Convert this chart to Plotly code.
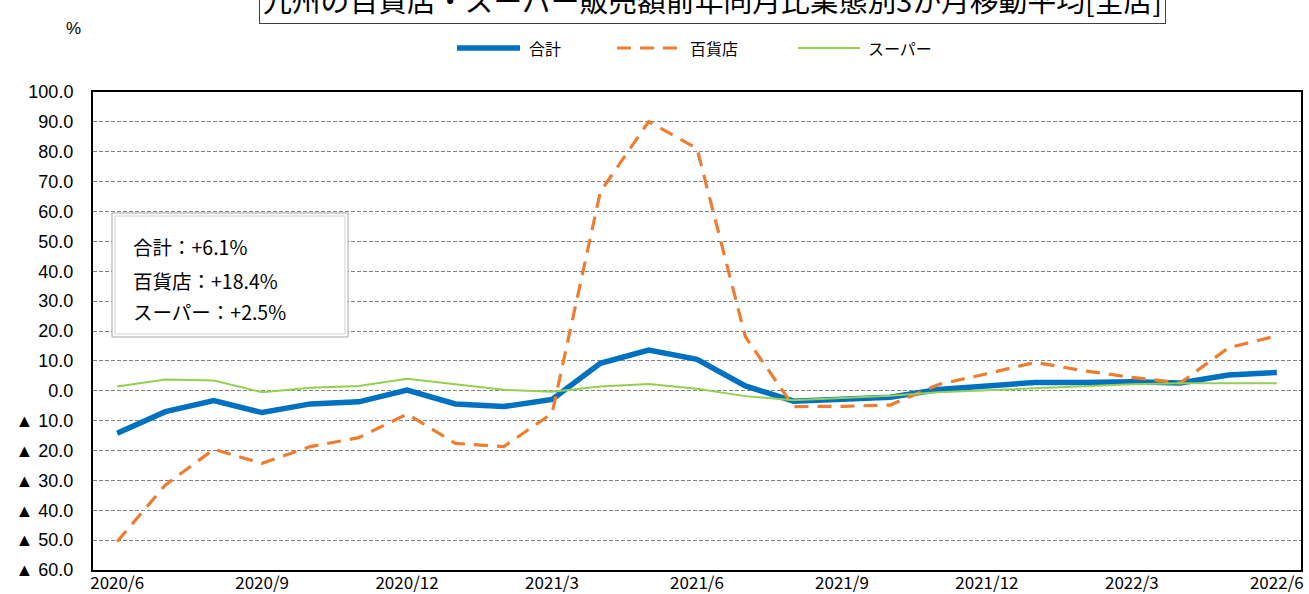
import plotly.graph_objects as go

months = ["2020/6", "2020/7", "2020/8", "2020/9", "2020/10", "2020/11", "2020/12",
          "2021/1", "2021/2", "2021/3", "2021/4", "2021/5", "2021/6", "2021/7",
          "2021/8", "2021/9", "2021/10", "2021/11", "2021/12", "2022/1", "2022/2",
          "2022/3", "2022/4", "2022/5", "2022/6"]

total = [-14.2, -7.0, -3.3, -7.3, -4.4, -3.7, 0.2,
         -4.4, -5.3, -2.9, 9.2, 13.6, 10.5, 1.6,
         -3.5, -2.8, -2.2, 0.4, 1.7, 2.8, 2.8,
         3.0, 2.6, 5.3, 6.1]

dept = [-50.5, -31.5, -19.6, -24.3, -18.7, -15.7, -7.8,
        -17.6, -18.7, -7.6, 66.6, 90.1, 81.1, 18.1,
        -5.3, -5.2, -4.8, 2.1, 5.7, 9.5, 6.7,
        4.5, 2.6, 14.4, 18.4]

super_ = [1.4, 3.8, 3.4, -0.5, 1.0, 1.6, 4.0,
          2.1, 0.3, -0.3, 1.4, 2.3, 0.7, -1.8,
          -3.2, -2.4, -1.7, -0.5, 0.1, 0.7, 1.5,
          2.2, 2.5, 2.5, 2.5]

names = ["合計", "百貨店", "スーパー"]
colors = ["#0070C0", "#ED7D31", "#92D050"]
ytick_vals = [100, 90, 80, 70, 60, 50, 40, 30, 20, 10, 0, -10, -20, -30, -40, -50, -60]
ytick_text = ["100.0", "90.0", "80.0", "70.0", "60.0", "50.0", "40.0", "30.0", "20.0",
              "10.0", "0.0", "▲ 10.0", "▲ 20.0", "▲ 30.0", "▲ 40.0", "▲ 50.0", "▲ 60.0"]
xtick_vals = months[::3]
title_text = "九州の百貨店・スーパー販売額前年同月比業態別3か月移動平均[全店]"
note_lines = ["合計：+6.1%", "百貨店：+18.4%", "スーパー：+2.5%"]

FONT = "Liberation Sans, Noto Sans CJK JP, sans-serif"
JFONT = "Noto Sans CJK JP, sans-serif"

W, H = 1309, 594
L, R, T, B = 93, 8, 92, 24
PW, PH = W - L - R, H - T - B


def px(x):
    return (x - L) / PW


def py(y):
    return (H - B - y) / PH


fig = go.Figure()
fig.add_trace(go.Scatter(x=months, y=total, name=names[0], mode="lines",
                         line=dict(color=colors[0], width=5.5)))
fig.add_trace(go.Scatter(x=months, y=dept, name=names[1], mode="lines",
                         line=dict(color=colors[1], width=3.2, dash="14px,9px")))
fig.add_trace(go.Scatter(x=months, y=super_, name=names[2], mode="lines",
                         line=dict(color=colors[2], width=2)))

fig.update_layout(
    width=W, height=H,
    margin=dict(l=L, r=R, t=T, b=B, autoexpand=False),
    paper_bgcolor="white", plot_bgcolor="white",
    font=dict(family=FONT, size=15, color="black"),
    showlegend=False,
)

fig.update_xaxes(type="category", range=[-0.5, len(months) - 0.5],
                 tickvals=xtick_vals, ticktext=xtick_vals,
                 showgrid=False, showline=True, linecolor="black", linewidth=2,
                 mirror=True, ticks="", tickfont=dict(size=17, family=JFONT),
                 ticklabelstandoff=-3)
fig.update_yaxes(range=[-60, 100], tickvals=ytick_vals, ticktext=ytick_text,
                 showgrid=True, gridcolor="#808080", gridwidth=1, griddash="4px,2px",
                 zeroline=False, showline=True, linecolor="black", linewidth=2,
                 mirror=True, ticks="", ticklabelstandoff=14,
                 tickfont=dict(size=18, family=FONT))

# Title box (top is cut off by the canvas edge, as in the original)
fig.add_annotation(text=title_text, xref="paper", yref="paper", x=px(712), y=py(24),
                   yanchor="bottom", xanchor="center", showarrow=False,
                   font=dict(family=JFONT, size=28.8, color="black"),
                   bordercolor="#404040", borderwidth=1, borderpad=3, bgcolor="white")

# % label
fig.add_annotation(text="%", xref="paper", yref="paper", x=px(73), y=py(28),
                   xanchor="center", yanchor="middle", showarrow=False,
                   font=dict(family=FONT, size=17))

# Legend (drawn manually to match the long line samples)
legend_lines = [(457, 520), (617, 680), (798, 860)]
legend_text_x = [527, 688, 866]
legend_widths = [5.5, 3.2, 2]
legend_dash = ["solid", "14px,9px", "solid"]
for (x0, x1), tx, nm, c, w, d in zip(legend_lines, legend_text_x, names, colors,
                                      legend_widths, legend_dash):
    fig.add_shape(type="line", xref="paper", yref="paper", x0=px(x0), x1=px(x1),
                  y0=py(48), y1=py(48), line=dict(color=c, width=w, dash=d))
    fig.add_annotation(text=nm, xref="paper", yref="paper", x=px(tx), y=py(48),
                       xanchor="left", yanchor="middle", showarrow=False,
                       font=dict(family=JFONT, size=16, color="black"))

# Note box
fig.add_shape(type="rect", xref="paper", yref="paper",
              x0=px(112), x1=px(348), y0=py(337), y1=py(213),
              line=dict(color="#A6A6A6", width=1), fillcolor="white", layer="above")
fig.add_shape(type="rect", xref="paper", yref="paper",
              x0=px(115), x1=px(345), y0=py(334), y1=py(216),
              line=dict(color="#D0D0D0", width=1), fillcolor="rgba(0,0,0,0)", layer="above")
for line_txt, ly in zip(note_lines, [246, 280, 311]):
    fig.add_annotation(text=line_txt, xref="paper", yref="paper",
                       x=px(131), y=py(ly), xanchor="left", yanchor="middle",
                       align="left", showarrow=False,
                       font=dict(family=JFONT, size=19.5, color="black"))

fig.write_html("out.html", config={"displayModeBar": False},
               post_script="document.body.style.margin='0';document.body.style.overflow='hidden';")
